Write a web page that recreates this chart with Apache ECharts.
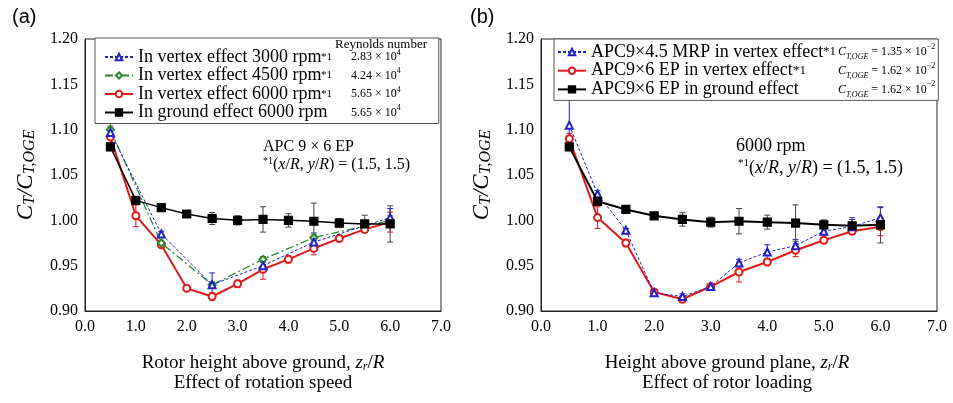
<!DOCTYPE html>
<html><head><meta charset="utf-8">
<script src="https://cdn.jsdelivr.net/npm/echarts@6/dist/echarts.min.js"></script>
<style>html,body{margin:0;padding:0;background:#fff}#c{width:953px;height:403px}</style>
</head><body><div id="c"></div>
<script>
// ---------- data ----------
const xFull = [0.5, 1.0, 1.5, 2.0, 2.5, 3.0, 3.5, 4.0, 4.5, 5.0, 5.5, 6.0];
const xSparse = [0.5, 1.5, 2.5, 3.5, 4.5, 6.0];

// panel (a): effect of rotation speed
const aGround    = [1.081, 1.022, 1.014, 1.007, 1.002, 1.000, 1.001, 1.000, 0.999, 0.997, 0.996, 0.996];
const aGroundErr = [0.004, 0.003, 0.002, 0.002, 0.0066, 0.005, 0.014, 0.0074, 0.020, 0.005, 0.0096, 0.020];
const aV6000     = [1.092, 1.005, 0.973, 0.925, 0.916, 0.930, 0.946, 0.957, 0.969, 0.980, 0.990, 0.998];
const aV6000Err  = [0.012, 0.012, 0.003, 0.002, 0.004, 0.004, 0.011, 0.004, 0.007, 0.003, 0.003, 0.011];
const aV3000     = [1.097, 0.985, 0.929, 0.950, 0.976, 1.003];
const aV3000Err  = [0.005, 0.003, 0.013, 0.004, 0.010, 0.010];
const aV4500     = [1.100, 0.975, 0.929, 0.957, 0.981, 1.000];
const aV4500Err  = [0.008, 0.003, 0.003, 0.003, 0.003, 0.005];
const aNames = ['In vertex effect 3000 rpm', 'In vertex effect 4500 rpm', 'In vertex effect 6000 rpm', 'In ground effect 6000 rpm'];
const aStar = [true, true, true, false];
const aReynolds = ['2.83', '4.24', '5.65', '5.65'];

// panel (b): effect of rotor loading
const bMrp       = [1.105, 1.029, 0.989, 0.920, 0.916, 0.927, 0.953, 0.965, 0.972, 0.988, 0.993, 1.003];
const bMrpErr    = [0.028, 0.004, 0.002, 0.003, 0.003, 0.003, 0.004, 0.008, 0.007, 0.004, 0.008, 0.011];
const bEp        = [1.090, 1.003, 0.975, 0.921, 0.913, 0.927, 0.943, 0.954, 0.967, 0.978, 0.988, 0.993];
const bEpErr     = [0.006, 0.012, 0.004, 0.002, 0.003, 0.003, 0.011, 0.004, 0.007, 0.003, 0.003, 0.010];
const bGround    = [1.081, 1.021, 1.012, 1.005, 1.001, 0.998, 0.999, 0.998, 0.997, 0.995, 0.994, 0.995];
const bGroundErr = [0.004, 0.004, 0.002, 0.002, 0.0074, 0.0055, 0.014, 0.0077, 0.020, 0.0055, 0.009, 0.020];
const bNames = ['APC9×4.5 MRP in vertex effect', 'APC9×6 EP in vertex effect', 'APC9×6 EP in ground effect'];
const bCtOge = ['1.35', '1.62', '1.62'];

const yMin = 0.90, yMax = 1.20, yStep = 0.05;
const xMin = 0, xMax = 7, xStep = 1;

// ---------- styling ----------
const FONT = 'Liberation Serif';
const COL = {blue: '#2020c8', green: '#2a8a2a', red: '#e01a1a', black: '#000000', gray: '#444444'};

function zip(xs, ys) { return xs.map((x, i) => [x, ys[i]]); }
function zipErr(xs, ys, es) { return xs.map((x, i) => [x, ys[i], es[i]]); }

function errSeries(xs, ys, es, idx, color, z) {
  return {
    type: 'custom', xAxisIndex: idx, yAxisIndex: idx, z: z, silent: true, clip: false,
    encode: {x: 0, y: 1}, data: zipErr(xs, ys, es),
    renderItem: function (params, api) {
      const x = api.value(0), y = api.value(1), e = api.value(2);
      const t = api.coord([x, y + e]), b = api.coord([x, y - e]);
      const w = 3;
      const st = {stroke: color, lineWidth: 1};
      return {type: 'group', children: [
        {type: 'line', shape: {x1: t[0], y1: t[1], x2: b[0], y2: b[1]}, style: st},
        {type: 'line', shape: {x1: t[0] - w, y1: t[1], x2: t[0] + w, y2: t[1]}, style: st},
        {type: 'line', shape: {x1: b[0] - w, y1: b[1], x2: b[0] + w, y2: b[1]}, style: st}
      ]};
    }
  };
}
function lineSeries(name, xs, ys, idx, color, symbol, size, width, dash, z) {
  return {
    name: name, type: 'line', xAxisIndex: idx, yAxisIndex: idx, data: zip(xs, ys),
    symbol: symbol, symbolSize: size, z: z, showAllSymbol: true,
    itemStyle: {color: color, borderColor: color, borderWidth: 1.2},
    lineStyle: {color: color, width: width, type: dash},
    emphasis: {disabled: true}
  };
}

function xAxis(idx, title, shiftPad) {
  return {
    type: 'value', gridIndex: idx, min: xMin, max: xMax, interval: xStep,
    axisLine: {show: true, onZero: false, lineStyle: {color: '#222', width: 1}},
    axisTick: {show: false}, splitLine: {show: false},
    axisLabel: {margin: 8, fontFamily: FONT, fontSize: 16, color: '#000', formatter: v => v.toFixed(1)},
    name: title, nameLocation: 'middle', nameGap: 42,
    nameTextStyle: {
      fontFamily: FONT, color: '#000', padding: shiftPad,
      rich: {
        n: {fontFamily: FONT, fontSize: 19, lineHeight: 20, color: '#000'},
        i: {fontFamily: FONT, fontSize: 19, lineHeight: 20, fontStyle: 'italic', color: '#000'},
        sb: {fontFamily: FONT, fontSize: 12, lineHeight: 10, fontStyle: 'italic', verticalAlign: 'bottom', color: '#000'}
      }
    }
  };
}
function yAxis(idx) {
  return {
    type: 'value', gridIndex: idx, min: yMin, max: yMax, interval: yStep,
    axisLine: {show: true, onZero: false, lineStyle: {color: '#222', width: 1}},
    axisTick: {show: false}, splitLine: {show: false},
    axisLabel: {margin: 7, fontFamily: FONT, fontSize: 16, color: '#000', formatter: v => v.toFixed(2)},
    name: '{i|C}{sb|T}{i|/C}{sb|T,OGE}', nameLocation: 'middle', nameRotate: 90, nameGap: 47,
    nameTextStyle: {
      rich: {
        i: {fontFamily: FONT, fontSize: 23, lineHeight: 24, fontStyle: 'italic', color: '#000'},
        sb: {fontFamily: FONT, fontSize: 16, lineHeight: 13, fontStyle: 'italic', verticalAlign: 'bottom', color: '#000'}
      }
    }
  };
}

const legendA = {};
aNames.forEach((n, i) => {
  legendA[n] = '{t|' + n + '}{s|' + (aStar[i] ? '*1' : ' ') + '}{r|' + aReynolds[i] + ' × 10}{e|4}';
});
const legendB = {};
const bStarStyle = ['a1', 'a2', 'a3'];
const bTextStyle = ['t1', 't2', 't3'];
bNames.forEach((n, i) => {
  legendB[n] = '{' + bTextStyle[i] + '|' + n + '}' + (i < 2 ? '{' + bStarStyle[i] + '|*1}' : '') +
    '{ci|C}{cs|T,OGE}{cr| = ' + bCtOge[i] + ' × 10}{ce|−2}';
});

const noteRich = {
  sp: {fontFamily: FONT, fontSize: 10, lineHeight: 10, verticalAlign: 'top', fill: '#000'},
  n: {fontFamily: FONT, fontSize: 16, lineHeight: 18, fill: '#000'},
  i: {fontFamily: FONT, fontSize: 16, lineHeight: 18, fontStyle: 'italic', fill: '#000'}
};
const noteRichB = {
  sp: {fontFamily: FONT, fontSize: 11, lineHeight: 10, verticalAlign: 'top', fill: '#000'},
  n: {fontFamily: FONT, fontSize: 18, lineHeight: 20, fill: '#000'},
  i: {fontFamily: FONT, fontSize: 18, lineHeight: 20, fontStyle: 'italic', fill: '#000'}
};
const noteText = '{sp|*1}{n|(}{i|x}{n|/}{i|R}{n|, }{i|y}{n|/}{i|R}{n|) = (1.5, 1.5)}';

const option = {
  animation: false,
  backgroundColor: '#fff',
  grid: [
    {left: 85, top: 39, width: 356, height: 272, show: true, borderColor: '#222', borderWidth: 1, backgroundColor: 'transparent'},
    {left: 541, top: 39, width: 396, height: 272, show: true, borderColor: '#222', borderWidth: 1, backgroundColor: 'transparent'}
  ],
  xAxis: [
    xAxis(0, '{n|Rotor height above ground, }{i|z}{sb|r}{n|/}{i|R}\n{n|Effect of rotation speed}', [0, 0, 0, 0]),
    xAxis(1, '{n|Height above ground plane, }{i|z}{sb|r}{n|/}{i|R}\n{n|Effect of rotor loading}', [0, 24, 0, 0])
  ],
  yAxis: [yAxis(0), yAxis(1)],
  legend: [
    {
      left: 95, top: 38, orient: 'vertical', data: aNames, selectedMode: false,
      itemWidth: 28, itemHeight: 8, itemGap: 0.5,
      padding: [10, 6, 2, 9], borderColor: '#555', borderWidth: 1, backgroundColor: '#fff',
      formatter: n => legendA[n],
      textStyle: {
        fontFamily: FONT, fontSize: 18, lineHeight: 17, color: '#000',
        rich: {
          t: {fontFamily: FONT, fontSize: 18, lineHeight: 17, width: 183, color: '#000'},
          s: {fontFamily: FONT, fontSize: 11, lineHeight: 17, width: 30, color: '#000'},
          r: {fontFamily: FONT, fontSize: 12, lineHeight: 17, color: '#000'},
          e: {fontFamily: FONT, fontSize: 8, lineHeight: 11, verticalAlign: 'top', width: 36, color: '#000'}
        }
      }
    },
    {
      left: 554, top: 39, orient: 'vertical', data: bNames, selectedMode: false,
      itemWidth: 28, itemHeight: 8, itemGap: 0.7,
      padding: [4, 3, 2, 3], borderColor: '#555', borderWidth: 1, backgroundColor: '#fff',
      formatter: n => legendB[n],
      textStyle: {
        fontFamily: FONT, fontSize: 18, lineHeight: 18, color: '#000',
        rich: {
          t1: {fontFamily: FONT, fontSize: 18, lineHeight: 18, width: 232, color: '#000'},
          t2: {fontFamily: FONT, fontSize: 18, lineHeight: 18, width: 202, color: '#000'},
          t3: {fontFamily: FONT, fontSize: 18, lineHeight: 18, width: 247, color: '#000'},
          a1: {fontFamily: FONT, fontSize: 13, lineHeight: 18, width: 15, color: '#000'},
          a2: {fontFamily: FONT, fontSize: 13, lineHeight: 18, width: 45, color: '#000'},
          ci: {fontFamily: FONT, fontSize: 12, lineHeight: 18, fontStyle: 'italic', color: '#000'},
          cs: {fontFamily: FONT, fontSize: 8, lineHeight: 10, fontStyle: 'italic', verticalAlign: 'bottom', color: '#000'},
          cr: {fontFamily: FONT, fontSize: 12, lineHeight: 18, color: '#000'},
          ce: {fontFamily: FONT, fontSize: 8, lineHeight: 11, verticalAlign: 'top', color: '#000'}
        }
      }
    }
  ],
  graphic: [
    {type: 'text', left: 12, top: 7, style: {text: '(a)', fontFamily: 'Liberation Sans', fontSize: 20, fill: '#000'}},
    {type: 'text', left: 470, top: 7, style: {text: '(b)', fontFamily: 'Liberation Sans', fontSize: 20, fill: '#000'}},
    {type: 'text', left: 335, top: 38, z: 100, style: {text: 'Reynolds number', fontFamily: FONT, fontSize: 13, fill: '#000'}},
    {type: 'text', left: 263, top: 139, style: {text: 'APC 9 × 6 EP', fontFamily: FONT, fontSize: 16, fill: '#000'}},
    {type: 'text', left: 263, top: 156, style: {text: noteText, rich: noteRich}},
    {type: 'text', left: 736, top: 137, style: {text: '6000 rpm', fontFamily: FONT, fontSize: 18, fill: '#000'}},
    {type: 'text', left: 738, top: 158, style: {text: noteText, rich: noteRichB}}
  ],
  series: [
    // panel (a)
    errSeries(xFull, aV6000, aV6000Err, 0, COL.red, 2),
    errSeries(xSparse, aV4500, aV4500Err, 0, COL.green, 2),
    errSeries(xSparse, aV3000, aV3000Err, 0, COL.blue, 2),
    errSeries(xFull, aGround, aGroundErr, 0, COL.gray, 2),
    lineSeries(aNames[2], xFull, aV6000, 0, COL.red, 'emptyCircle', 7, 2, 'solid', 3),
    lineSeries(aNames[1], xSparse, aV4500, 0, COL.green, 'emptyDiamond', 7, 1.3, [8, 3, 2, 3], 4),
    lineSeries(aNames[0], xSparse, aV3000, 0, COL.blue, 'emptyTriangle', 7, 1, [3, 2], 5),
    lineSeries(aNames[3], xFull, aGround, 0, COL.black, 'rect', 8, 1.5, 'solid', 6),
    // panel (b)
    errSeries(xFull, bEp, bEpErr, 1, COL.red, 2),
    errSeries(xFull, bMrp, bMrpErr, 1, COL.blue, 2),
    errSeries(xFull, bGround, bGroundErr, 1, COL.gray, 2),
    lineSeries(bNames[1], xFull, bEp, 1, COL.red, 'emptyCircle', 7, 2, 'solid', 3),
    lineSeries(bNames[0], xFull, bMrp, 1, COL.blue, 'emptyTriangle', 7, 1, [3, 2], 4),
    lineSeries(bNames[2], xFull, bGround, 1, COL.black, 'rect', 8, 2, 'solid', 6)
  ]
};

const chart = echarts.init(document.getElementById('c'), null, {renderer: 'canvas'});
chart.setOption(option);
</script>
</body></html>
